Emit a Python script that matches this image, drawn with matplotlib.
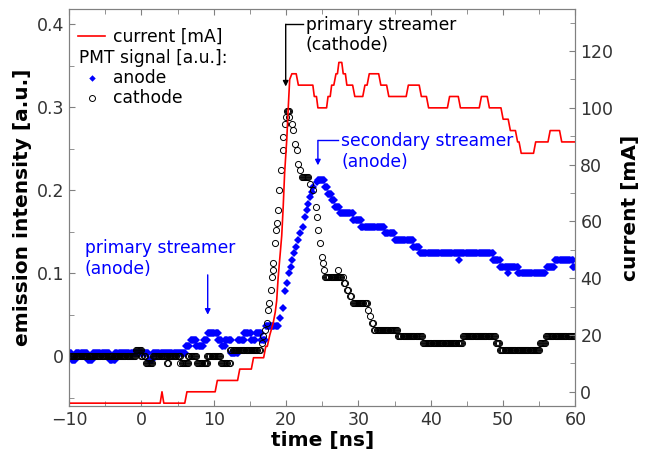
import numpy as np
import matplotlib
matplotlib.use('Agg')
import matplotlib.pyplot as plt
from matplotlib.ticker import MultipleLocator, FuncFormatter
from matplotlib.lines import Line2D

# discharge current, corners of the step trace (ns, mA)
current_t = [-10.0, 2.6, 2.85, 3.1, 6.0, 6.3, 10.2, 10.5, 13.3, 13.6, 15.2, 15.5,
             16.9, 17.2, 17.4, 17.75, 18.2, 18.5, 18.7, 18.9, 19.1, 19.4, 19.6,
             19.8, 20.1, 20.3, 20.5, 20.8, 21.4, 21.7, 23.7, 23.9, 24.2, 24.4,
             25.6, 25.8, 26.1, 26.3, 26.6, 26.9, 27.1, 27.3, 27.7, 27.9, 28.2,
             28.4, 29.2, 29.5, 30.6, 30.9, 31.2, 31.5, 32.8, 33.1, 33.9, 34.2,
             36.6, 36.9, 38.4, 38.7, 39.4, 39.7, 42.3, 42.6, 43.8, 44.1, 46.7,
             47.0, 47.8, 48.1, 49.7, 50.0, 50.7, 51.0, 51.7, 52.0, 52.2, 52.5,
             54.2, 54.5, 56.2, 56.5, 57.8, 58.1, 60.0]
current_ma = [-4, -4, 0, -4, -4, 0, 0, 4, 4, 8, 8, 12,
              12, 16, 16, 20, 24, 28, 32, 40, 46, 55, 65,
              77, 89, 100, 110, 112, 112, 108, 108, 104, 104, 100,
              100, 104, 104, 108, 108, 112, 112, 116, 116, 112, 112,
              108, 108, 104, 104, 108, 108, 112, 112, 108, 108, 104,
              104, 108, 108, 104, 104, 100, 100, 104, 104, 100, 100,
              104, 104, 100, 100, 96, 96, 92, 92, 88, 88, 84,
              84, 88, 88, 92, 92, 88, 88]

# anode PMT signal: flat stretches (start, end, level) and single samples
anode_runs = [(-10.0, -9.6, 0.004), (-9.6, -9.0, -0.004), (-9.0, -7.4, 0.004),
              (-7.4, -6.7, -0.004), (-6.7, -4.3, 0.004), (-4.3, -3.6, -0.004),
              (-3.6, 1.0, 0.004), (1.0, 1.6, -0.004), (1.6, 6.2, 0.004),
              (6.2, 6.8, 0.012), (6.8, 7.6, 0.020), (7.6, 8.6, 0.012),
              (8.6, 9.2, 0.020), (9.2, 10.6, 0.028), (10.6, 11.2, 0.020),
              (11.2, 11.6, 0.012), (11.6, 12.4, 0.020), (12.4, 13.4, 0.004),
              (13.4, 14.2, 0.020), (14.2, 15.2, 0.028), (15.2, 15.8, 0.020),
              (15.8, 16.6, 0.028), (16.6, 17.2, 0.020), (17.2, 19.0, 0.036),
              (24.4, 25.4, 0.212), (25.4, 25.8, 0.204), (25.8, 26.3, 0.196),
              (26.3, 26.75, 0.188), (26.75, 27.4, 0.180), (27.4, 29.3, 0.172),
              (29.3, 30.4, 0.164), (30.4, 33.7, 0.156), (33.7, 35.0, 0.148),
              (35.0, 37.6, 0.140), (37.6, 38.5, 0.132), (38.5, 48.6, 0.124),
              (48.6, 49.6, 0.116), (49.6, 52.1, 0.108), (52.1, 56.0, 0.100),
              (56.0, 57.2, 0.108), (57.2, 59.7, 0.116), (59.7, 60.0, 0.108)]
anode_t = [19.16, 19.53, 19.85, 20.09, 20.45, 20.64, 20.78, 21.09, 21.37, 21.69,
           21.92, 22.30, 22.61, 22.85, 23.07, 23.31, 23.54, 23.76, 24.23,
           43.94, 50.7]
anode_v = [0.046, 0.058, 0.078, 0.088, 0.100, 0.108, 0.116, 0.124, 0.132, 0.140,
           0.148, 0.156, 0.168, 0.176, 0.184, 0.192, 0.198, 0.204, 0.210,
           0.116, 0.100]

# cathode PMT signal
cathode_runs = [(-10.0, -0.8, 0.0), (-0.8, 0.0, 0.008), (0.0, 0.6, 0.0),
                (0.6, 1.6, -0.008), (1.6, 3.6, 0.0), (3.6, 3.8, -0.008),
                (3.8, 5.4, 0.0), (5.4, 6.5, -0.008), (6.5, 7.7, 0.0),
                (7.7, 9.1, -0.008), (9.1, 11.0, 0.0), (11.0, 12.3, -0.008),
                (12.3, 16.4, 0.008), (22.2, 23.2, 0.216), (25.4, 27.9, 0.096),
                (29.2, 31.3, 0.064), (32.2, 35.5, 0.032), (35.5, 38.9, 0.024),
                (38.9, 44.4, 0.016), (44.4, 49.0, 0.024), (49.0, 49.6, 0.016),
                (49.6, 55.1, 0.008), (55.1, 55.9, 0.016), (55.9, 60.0, 0.024)]
cathode_t = [16.63, 16.85, 17.09, 17.32, 17.54, 17.68, 17.87, 18.01, 18.15, 18.23,
             18.47, 18.61, 18.79, 18.93, 19.06, 19.26, 19.53, 19.62, 19.85, 19.99,
             20.09, 20.27, 20.45, 20.36, 20.78, 20.92, 21.23, 21.55, 21.69, 21.92,
             23.31, 23.76, 24.13, 24.31, 24.45, 24.69, 24.92, 25.06, 25.24, 27.2,
             27.95, 28.15, 28.4, 28.6, 28.85, 29.0, 31.36, 31.6, 31.83, 32.0]
cathode_v = [0.016, 0.024, 0.032, 0.040, 0.056, 0.064, 0.080, 0.096, 0.104, 0.112,
             0.136, 0.152, 0.160, 0.176, 0.200, 0.224, 0.248, 0.264, 0.280, 0.288,
             0.296, 0.296, 0.296, 0.288, 0.280, 0.272, 0.256, 0.248, 0.232, 0.224,
             0.208, 0.200, 0.180, 0.168, 0.152, 0.136, 0.120, 0.112, 0.104, 0.104,
             0.088, 0.088, 0.080, 0.080, 0.072, 0.072, 0.056, 0.048, 0.040, 0.040]

dt = 0.15  # sample spacing inside the flat stretches


def samples(runs, t_pts, v_pts):
    t, v = [], []
    for t0, t1, level in runs:
        tt = np.arange(t0, t1 - 1e-6, dt)
        t.extend(tt)
        v.extend([level] * len(tt))
    t.extend(t_pts)
    v.extend(v_pts)
    return np.array(t), np.array(v)


ta, va = samples(anode_runs, anode_t, anode_v)
tc, vc = samples(cathode_runs, cathode_t, cathode_v)

BLUE = '#0000ff'
GREY = '#808080'
TXT = '#333333'

fig = plt.figure(figsize=(6.51, 4.57), dpi=100)
ax = fig.add_axes([0.106, 0.1116, 0.778, 0.868])
ax2 = ax.twinx()

ax.plot(ta, va, linestyle='none', marker='D', ms=3.8, mew=0, color=BLUE)
ax.plot(tc, vc, linestyle='none', marker='o', ms=4.4, mew=0.7,
        mfc='none', mec='black')
ax2.plot(current_t, current_ma, color='red', lw=1.2)

ax.set_xlim(-10, 60)
ax.set_ylim(-0.06, 0.418)
ax2.set_ylim(-5, 134.7)

ax.xaxis.set_major_locator(MultipleLocator(10))
ax.xaxis.set_minor_locator(MultipleLocator(5))
ax.yaxis.set_major_locator(MultipleLocator(0.1))
ax.yaxis.set_minor_locator(MultipleLocator(0.05))
ax.yaxis.set_major_formatter(FuncFormatter(lambda v, p: '0' if abs(v) < 1e-9 else '%.1f' % v))
ax2.yaxis.set_major_locator(MultipleLocator(20))
ax2.yaxis.set_minor_locator(MultipleLocator(10))

for a in (ax, ax2):
    for s in a.spines.values():
        s.set_color(GREY)
ax.tick_params(which='both', direction='in', top=True, right=False,
               color=GREY, labelcolor=TXT, labelsize=12.5)
ax.tick_params(which='major', length=4.5)
ax.tick_params(which='minor', length=3.5)
ax2.tick_params(which='both', direction='in', color=GREY, labelcolor=TXT,
                labelsize=12.5)
ax2.tick_params(which='major', length=4.5)
ax2.tick_params(which='minor', length=3.5)

ax.set_xlabel('time [ns]', fontsize=14.5, fontweight='bold')
ax.set_ylabel('emission intensity [a.u.]', fontsize=14.5, fontweight='bold')
ax2.set_ylabel('current [mA]', fontsize=14.5, fontweight='bold')
ax.xaxis.set_label_coords(0.5, -0.063)
ax.yaxis.set_label_coords(-0.073, 0.5)
ax2.yaxis.set_label_coords(1.09, 0.5)

# annotations
fs = 12.3
ax.text(22.7, 0.387, 'primary streamer\n(cathode)', fontsize=fs, va='center', color='black')
ax.plot([19.95, 22.35], [0.400, 0.400], color='black', lw=1)
ax.annotate('', xy=(19.95, 0.325), xytext=(19.95, 0.400),
            arrowprops=dict(arrowstyle='-|>', color='black', lw=1,
                            mutation_scale=8, shrinkA=0, shrinkB=0))

ax.text(27.6, 0.247, 'secondary streamer\n(anode)', fontsize=fs, va='center', color=BLUE)
ax.plot([24.4, 27.2], [0.26, 0.26], color=BLUE, lw=1)
ax.annotate('', xy=(24.4, 0.23), xytext=(24.4, 0.26),
            arrowprops=dict(arrowstyle='-|>', color=BLUE, lw=1,
                            mutation_scale=8, shrinkA=0, shrinkB=0))

ax.text(-7.8, 0.1174, 'primary streamer\n(anode)', fontsize=fs, va='center', color=BLUE)
ax.annotate('', xy=(9.17, 0.050), xytext=(9.17, 0.098),
            arrowprops=dict(arrowstyle='-|>', color=BLUE, lw=1,
                            mutation_scale=8, shrinkA=0, shrinkB=0))

# legend drawn by hand so the "PMT signal" header has no handle
tr = ax2.transAxes
ax2.add_line(Line2D([0.018, 0.071], [0.9327, 0.9327], transform=tr, color='red', lw=1.2))
ax2.text(0.087, 0.930, 'current [mA]', transform=tr, fontsize=fs, va='center')
ax2.text(0.020, 0.877, 'PMT signal [a.u.]:', transform=tr, fontsize=fs, va='center')
ax2.add_line(Line2D([0.0454], [0.827], transform=tr, linestyle='none', marker='D',
                    ms=3.3, mew=0, color=BLUE))
ax2.text(0.087, 0.827, 'anode', transform=tr, fontsize=fs, va='center')
ax2.add_line(Line2D([0.0454], [0.776], transform=tr, linestyle='none', marker='o',
                    ms=4.3, mew=0.7, mfc='none', mec='black'))
ax2.text(0.087, 0.776, 'cathode', transform=tr, fontsize=fs, va='center')

fig.savefig('out.png', dpi=100)
